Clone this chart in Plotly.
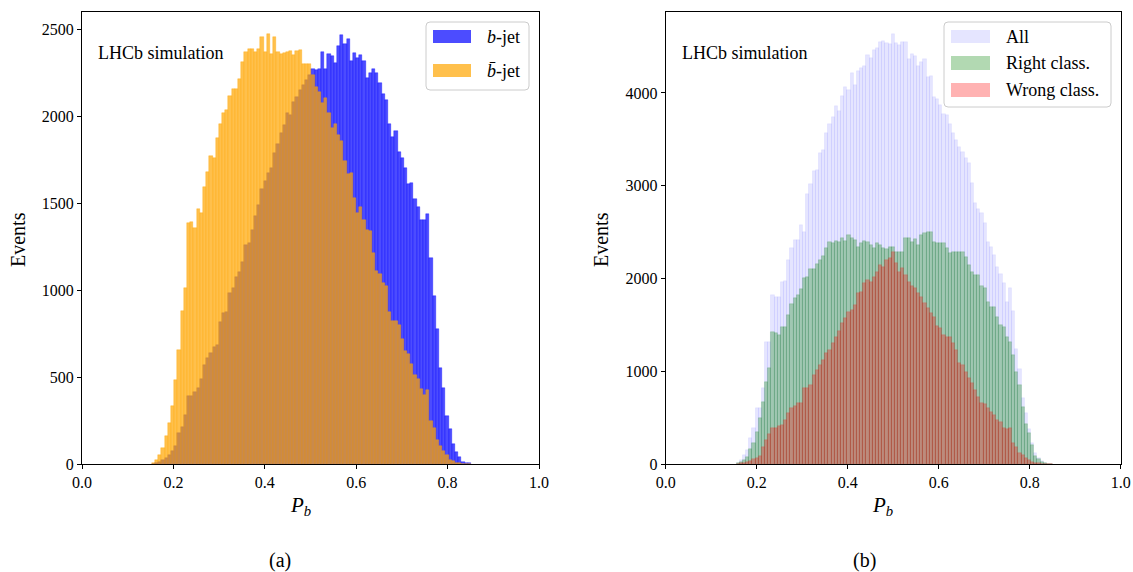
import numpy as np
import plotly.graph_objects as go

W, H = 1133, 572

# Histogram binning of the tagging probability P_b
N_BINS = 100
PB_RANGE_A = (0.153, 0.851)
PB_RANGE_B = (0.155, 0.851)

# (a) events per bin for true b-jets and b-bar-jets
b_jet = [0, 4, 10, 23, 33, 52, 75, 103, 176, 215,
         282, 393, 393, 416, 439, 488, 569, 607, 636, 674,
         684, 818, 870, 875, 981, 1010, 1077, 1105, 1163, 1259,
         1268, 1345, 1425, 1488, 1579, 1626, 1670, 1699, 1785, 1837,
         1904, 1948, 2015, 2006, 2082, 2111, 2149, 2178, 2207, 2236,
         2270, 2264, 2270, 2366, 2270, 2354, 2347, 2303, 2402, 2466,
         2414, 2441, 2316, 2360, 2331, 2351, 2316, 2217, 2245, 2268,
         2245, 2188, 2125, 2092, 1952, 1879, 1914, 1795, 1757, 1699,
         1609, 1615, 1523, 1477, 1402, 1402, 1437, 1182, 966, 776,
         554, 435, 276, 201, 115, 71, 40, 13, 6, 4]

bbar_jet = [8, 23, 52, 94, 161, 238, 335, 483, 655, 881,
            1010, 1383, 1393, 1358, 1466, 1441, 1590, 1680, 1770, 1757,
            1872, 1952, 2015, 2034, 2117, 2155, 2155, 2213, 2308, 2370,
            2383, 2383, 2370, 2383, 2452, 2370, 2469, 2354, 2452, 2370,
            2354, 2360, 2370, 2375, 2351, 2375, 2381, 2297, 2299, 2299,
            2236, 2169, 2140, 2077, 2102, 2019, 1933, 1954, 1891, 1856,
            1741, 1667, 1672, 1529, 1443, 1477, 1402, 1345, 1339, 1213,
            1109, 1092, 1040, 1023, 874, 822, 822, 799, 718, 649,
            632, 575, 512, 488, 431, 396, 425, 247, 207, 138,
            103, 75, 52, 23, 17, 8, 4, 2, 1, 0]

# (b) all jets, correctly and wrongly classified jets
all_jets = [11, 44, 97, 151, 277, 385, 600, 600, 816, 1319,
            1319, 1822, 1804, 1804, 1966, 1973, 2199, 2332, 2415, 2415,
            2577, 2505, 2907, 3015, 3159, 3166, 3356, 3385, 3565, 3662,
            3744, 3856, 3805, 3967, 4068, 4032, 4211, 4086, 4240, 4273,
            4294, 4409, 4380, 4463, 4481, 4553, 4560, 4542, 4528, 4632,
            4535, 4517, 4553, 4553, 4362, 4416, 4402, 4290, 4337, 4362,
            4176, 4186, 3953, 3935, 3870, 3769, 3762, 3662, 3565, 3493,
            3421, 3367, 3295, 3241, 3026, 2810, 2745, 2710, 2602, 2397,
            2343, 2253, 2127, 2048, 1955, 1750, 1894, 1653, 1236, 1021,
            708, 547, 374, 223, 115, 61, 33, 15, 4, 0]

right_class = [7, 25, 44, 80, 162, 223, 349, 493, 672, 888,
               1032, 1427, 1409, 1391, 1481, 1481, 1606, 1721, 1793, 1822,
               1883, 2002, 2020, 2099, 2099, 2153, 2199, 2242, 2332, 2397,
               2379, 2404, 2397, 2433, 2404, 2469, 2433, 2415, 2343, 2379,
               2404, 2397, 2361, 2325, 2379, 2361, 2332, 2318, 2343, 2343,
               2289, 2289, 2289, 2433, 2433, 2397, 2422, 2361, 2469, 2487,
               2497, 2497, 2397, 2386, 2379, 2379, 2325, 2271, 2289, 2289,
               2289, 2289, 2228, 2145, 2074, 2038, 2038, 1919, 1901, 1750,
               1696, 1696, 1588, 1499, 1481, 1373, 1319, 1175, 996, 852,
               618, 431, 331, 205, 90, 51, 25, 11, 4, 0]

wrong_class = [4, 7, 15, 22, 33, 54, 69, 90, 187, 259,
               320, 385, 385, 410, 421, 475, 547, 600, 626, 654,
               654, 816, 816, 852, 960, 1014, 1068, 1121, 1193, 1229,
               1301, 1373, 1434, 1517, 1570, 1642, 1660, 1714, 1840, 1858,
               1955, 1984, 1966, 2020, 2074, 2145, 2127, 2199, 2217, 2289,
               2163, 2074, 2109, 2038, 1966, 1919, 1894, 1840, 1804, 1732,
               1678, 1624, 1588, 1488, 1463, 1391, 1373, 1366, 1301, 1229,
               1086, 1068, 996, 924, 870, 798, 726, 654, 647, 600,
               565, 529, 475, 457, 385, 374, 385, 223, 187, 115,
               97, 61, 44, 25, 15, 7, 4, 0, 0, 0]

X_TICKS = [0.0, 0.2, 0.4, 0.6, 0.8, 1.0]
Y_TICKS_A = [0, 500, 1000, 1500, 2000, 2500]
Y_TICKS_B = [0, 1000, 2000, 3000, 4000]


def bin_centers(lo_hi):
    lo, hi = lo_hi
    edges = np.linspace(lo, hi, N_BINS + 1)
    return 0.5 * (edges[:-1] + edges[1:]), edges[1] - edges[0]


xa, wa = bin_centers(PB_RANGE_A)
xb, wb = bin_centers(PB_RANGE_B)

BLUE = "rgba(0,0,255,0.7)"
ORANGE = "rgba(255,165,0,0.7)"
LAVENDER = "rgba(0,0,255,0.1)"
GREEN = "rgba(0,128,0,0.3)"
RED = "rgba(255,0,0,0.3)"

fig = go.Figure()


def hist(x, y, w, color, xaxis, yaxis):
    fig.add_trace(go.Bar(
        x=x, y=y, width=w, xaxis=xaxis, yaxis=yaxis,
        marker=dict(color=color, line=dict(color=color, width=0.5)),
        showlegend=False, hoverinfo="x+y",
    ))


hist(xa, b_jet, wa, BLUE, "x", "y")
hist(xa, bbar_jet, wa, ORANGE, "x", "y")
hist(xb, all_jets, wb, LAVENDER, "x2", "y2")
hist(xb, right_class, wb, GREEN, "x2", "y2")
hist(xb, wrong_class, wb, RED, "x2", "y2")

FONT = "Liberation Serif, Times New Roman, serif"


def px(x):
    return x / W


def py(y):
    return 1 - y / H


axis_common = dict(
    showline=True, linecolor="black", linewidth=1, mirror=True,
    ticks="outside", ticklen=4, tickwidth=1, tickcolor="black",
    showgrid=False, zeroline=False, automargin=False,
    tickfont=dict(family=FONT, size=16, color="black"),
)

dom_y = [py(464), py(12)]
fig.update_layout(
    width=W, height=H, autosize=False,
    margin=dict(l=0, r=0, t=0, b=0),
    paper_bgcolor="white", plot_bgcolor="white",
    barmode="overlay", bargap=0,
    xaxis=dict(domain=[px(82), px(539)], range=[0, 1], tickvals=X_TICKS,
               ticktext=[f"{v:.1f}" for v in X_TICKS], anchor="y", **axis_common),
    yaxis=dict(domain=dom_y, range=[0, 2598], tickvals=Y_TICKS_A, anchor="x", **axis_common),
    xaxis2=dict(domain=[px(665.7), px(1120.7)], range=[0, 1], tickvals=X_TICKS,
                ticktext=[f"{v:.1f}" for v in X_TICKS], anchor="y2", **axis_common),
    yaxis2=dict(domain=dom_y, range=[0, 4873], tickvals=Y_TICKS_B, anchor="x2", **axis_common),
)

annotations = []


def text(x, y, s, size=15, angle=0, xanchor="center"):
    annotations.append(dict(
        x=px(x), y=py(y), xref="paper", yref="paper", text=s, showarrow=False,
        xanchor=xanchor, yanchor="middle", textangle=angle,
        font=dict(family=FONT, size=size, color="black"),
    ))


# panel labels and axis titles
text(96, 53, "LHCb simulation", 18, xanchor="left")
text(680, 53, "LHCb simulation", 18, xanchor="left")
text(300, 506, "<i>P</i><sub><i>b</i></sub>", 21)
text(882, 506, "<i>P</i><sub><i>b</i></sub>", 21)
text(18, 240, "Events", 20, angle=-90)
text(601, 240, "Events", 20, angle=-90)
text(280, 560, "(a)", 20)
text(864, 560, "(b)", 20)

shapes = []


def rounded_box(x0, y0, x1, y1, r=4):
    X0, X1 = px(x0), px(x1)
    Y0, Y1 = py(y0), py(y1)
    rx, ry = r / W, r / H
    path = (f"M{X0 + rx},{Y0} L{X1 - rx},{Y0} Q{X1},{Y0} {X1},{Y0 - ry} "
            f"L{X1},{Y1 + ry} Q{X1},{Y1} {X1 - rx},{Y1} L{X0 + rx},{Y1} "
            f"Q{X0},{Y1} {X0},{Y1 + ry} L{X0},{Y0 - ry} Q{X0},{Y0} {X0 + rx},{Y0} Z")
    shapes.append(dict(type="path", path=path, xref="paper", yref="paper",
                       fillcolor="rgba(255,255,255,0.8)",
                       line=dict(color="#cccccc", width=1)))


def patch(x0, y0, x1, y1, color):
    shapes.append(dict(type="rect", xref="paper", yref="paper",
                       x0=px(x0), x1=px(x1), y0=py(y1), y1=py(y0),
                       fillcolor=color, line=dict(width=0)))


# legend (a)
rounded_box(426, 22, 529, 90)
patch(433, 30, 471, 43, BLUE)
patch(433, 64, 471, 77, ORANGE)
text(485, 37, "<i>b</i>-jet", 18, xanchor="left")
text(485, 71, "<i>b̄</i>-jet", 18, xanchor="left")

# legend (b)
rounded_box(944, 22, 1111, 107)
patch(951, 30, 990, 43, LAVENDER)
patch(951, 56, 990, 70, GREEN)
patch(951, 83, 990, 97, RED)
text(1004, 37, "All", 18, xanchor="left")
text(1004, 63, "Right class.", 18, xanchor="left")
text(1004, 90, "Wrong class.", 18, xanchor="left")

fig.update_layout(annotations=annotations, shapes=shapes)
fig.write_html("out.html")
